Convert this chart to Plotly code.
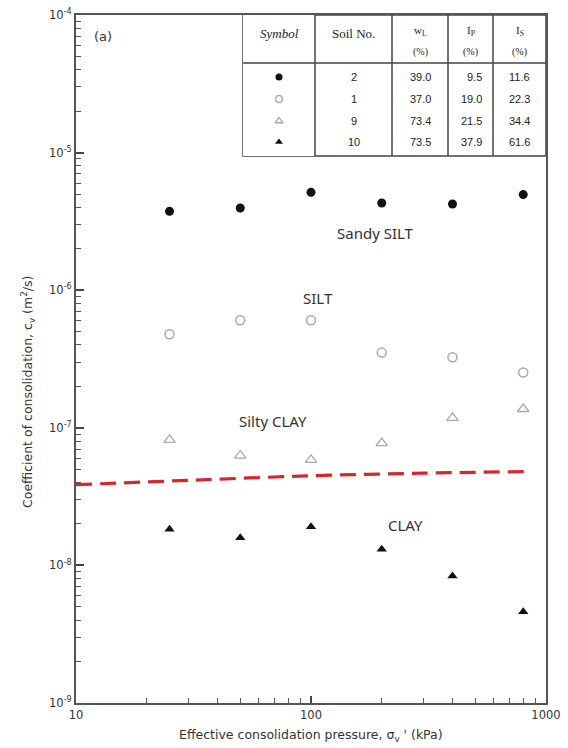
import plotly.graph_objects as go

# Effective consolidation pressure (kPa)
pressure = [25, 50, 100, 200, 400, 800]

# Coefficient of consolidation c_v (m^2/s) for each soil
cv_soil2 = [3.74e-6, 3.96e-6, 5.14e-6, 4.30e-6, 4.23e-6, 4.95e-6]
cv_soil1 = [4.79e-7, 6.05e-7, 6.05e-7, 3.52e-7, 3.26e-7, 2.52e-7]
cv_soil9 = [8.18e-8, 6.27e-8, 5.85e-8, 7.74e-8, 1.18e-7, 1.37e-7]
cv_soil10 = [1.83e-8, 1.59e-8, 1.91e-8, 1.31e-8, 8.36e-9, 4.61e-9]

# Boundary line between silty clay and clay
boundary_p = [10, 30, 100, 300, 830]
boundary_cv = [3.86e-8, 4.15e-8, 4.48e-8, 4.68e-8, 4.81e-8]

# Soil property table
soil_no = ["2", "1", "9", "10"]
w_l = ["39.0", "37.0", "73.4", "73.5"]
i_p = ["9.5", "19.0", "21.5", "37.9"]
i_s = ["11.6", "22.3", "34.4", "61.6"]

# Zone labels
zone_labels = ["Sandy SILT", "SILT", "Silty CLAY", "CLAY"]

W, H = 568, 748
L, R, T, B = 76, 546, 15, 703


def px(x):
    return (x - L) / (R - L)


def py(y):
    return (B - y) / (B - T)


styles = [
    dict(symbol="circle", size=9, color="#111111", line=dict(width=0)),
    dict(symbol="circle-open", size=9, color="#a8a8a8", line=dict(width=1.5)),
    dict(symbol="triangle-up-open", size=10, color="#a8a8a8", line=dict(width=1.3)),
    dict(symbol="triangle-up", size=9, color="#111111", line=dict(width=0)),
]
series = [cv_soil2, cv_soil1, cv_soil9, cv_soil10]

fig = go.Figure()

# Boundary line, drawn on the overlaid axes that carry the extra ticks
fig.add_trace(go.Scatter(x=boundary_p, y=boundary_cv, mode="lines", xaxis="x3", yaxis="y3",
                         line=dict(color="#d6282b", width=3.2, dash="16px,8px", shape="spline"),
                         showlegend=False, hoverinfo="skip"))

for vals, st in zip(series, styles):
    fig.add_trace(go.Scatter(x=pressure, y=vals, mode="markers", marker=st,
                             showlegend=False, hoverinfo="skip"))

# Table geometry (pixels)
col_edges = [243, 315, 392, 448, 493, 546]
ty_top, ty_head, ty_bot = 15, 63, 156
row_y = [77, 99, 121, 142]

# Symbol column markers on a hidden overlay axis
for i, st in enumerate(styles):
    fig.add_trace(go.Scatter(x=[0.5], y=[row_y[i]], mode="markers",
                             marker=dict(st, size=7), xaxis="x2", yaxis="y2",
                             showlegend=False, hoverinfo="skip"))

shapes = []
line_style = dict(color="#444444", width=1.5)
shapes.append(dict(type="rect", xref="paper", yref="paper", x0=px(col_edges[0]), x1=px(col_edges[-1]),
                   y0=py(ty_bot), y1=py(ty_top), line=line_style, fillcolor="white", layer="below"))
for xe in col_edges[1:-1]:
    shapes.append(dict(type="line", xref="paper", yref="paper", x0=px(xe), x1=px(xe),
                       y0=py(ty_bot), y1=py(ty_top), line=line_style))
shapes.append(dict(type="line", xref="paper", yref="paper", x0=px(col_edges[0]), x1=px(col_edges[-1]),
                   y0=py(ty_head), y1=py(ty_head), line=line_style))

ann = []
serif = dict(family="Liberation Serif", size=13, color="#222222")
sans_small = dict(family="Liberation Sans", size=11, color="#222222")
centers = [(col_edges[i] + col_edges[i + 1]) / 2 for i in range(5)]


def add_text(x, y, text, font, xanchor="center", **kw):
    ann.append(dict(x=px(x), y=py(y), xref="paper", yref="paper", text=text,
                    showarrow=False, font=font, xanchor=xanchor, yanchor="middle", **kw))


add_text(centers[0], 33, "<i>Symbol</i>", serif)
add_text(centers[1], 33, "Soil No.", serif)
add_text(centers[2], 31, "w<sub>L</sub>", dict(serif, size=11))
add_text(centers[3], 31, "I<sub>P</sub>", dict(serif, size=11))
add_text(centers[4], 31, "I<sub>S</sub>", dict(serif, size=11))
for c in centers[2:]:
    add_text(c, 52, "(%)", dict(serif, size=10))
for i in range(4):
    add_text(centers[1], row_y[i], soil_no[i], sans_small)
    add_text(centers[2], row_y[i], w_l[i], sans_small)
    add_text(centers[3] + 13, row_y[i], i_p[i], sans_small, xanchor="right")
    add_text(centers[4], row_y[i], i_s[i], sans_small)

add_text(103, 36, "(a)", dict(family="DejaVu Sans", size=13, color="#333333"))

label_font = dict(family="Noto Sans", size=15, color="#333333")
label_pos = [(375, 233), (318, 298), (273, 421), (405, 525)]
for t, (x, y) in zip(zone_labels, label_pos):
    add_text(x, y, t, label_font)

title_font = dict(family="DejaVu Sans", size=12.5, color="#333333")
# Axis titles
add_text(311, 735, "Effective consolidation pressure, σ<sub>v</sub> ' (kPa)", title_font)
add_text(28, 392, "Coefficient of consolidation, c<sub>v</sub> (m<sup>2</sup>/s)", title_font,
         textangle=-90)

axis_font = dict(family="DejaVu Sans", size=11.5, color="#333333")
y_major = [1e-9, 1e-8, 1e-7, 1e-6, 1e-5, 1e-4]
y_major_text = ["10<sup>-9</sup>", "10<sup>-8</sup>", "10<sup>-7</sup>",
                "10<sup>-6</sup>", "10<sup>-5</sup>", "10<sup>-4</sup>"]
x_minor = [m * 10 ** e for e in (1, 2) for m in range(2, 10)]
y_minor = [float(f"{m}e{e}") for e in range(-9, -4) for m in range(2, 10)]

# Left axis: every decade digit gets a short tick, only decades get a label
y_all = y_major + y_minor
y_all_text = y_major_text + [""] * len(y_minor)

common = dict(showgrid=False, zeroline=False, automargin=False)

fig.update_layout(
    width=W, height=H,
    margin=dict(l=L, r=W - R, t=T, b=H - B, autoexpand=False),
    paper_bgcolor="white", plot_bgcolor="white",
    shapes=shapes, annotations=ann,
    xaxis=dict(type="log", range=[1, 3], tickvals=[10, 100, 1000], ticktext=["10", "100", "1000"],
               ticks="inside", ticklen=7, tickwidth=1.5, tickcolor="#444444",
               showline=True, linecolor="#555555", linewidth=2, mirror=True,
               tickfont=axis_font, **common),
    yaxis=dict(type="log", range=[-9, -4], tickmode="array", tickvals=y_all, ticktext=y_all_text,
               ticks="inside", ticklen=5, tickwidth=1.2, tickcolor="#555555",
               showline=True, linecolor="#555555", linewidth=2, mirror=True,
               tickfont=axis_font, **common),
    # Overlaid axes: minor ticks along the bottom, longer decade ticks on the left
    xaxis3=dict(type="log", range=[1, 3], overlaying="x", side="bottom", anchor="y3",
                tickmode="array", tickvals=x_minor, showticklabels=False,
                ticks="inside", ticklen=5, tickwidth=1.2, tickcolor="#555555",
                showline=False, **common),
    yaxis3=dict(type="log", range=[-9, -4], overlaying="y", side="left", anchor="x3",
                tickmode="array", tickvals=y_major, showticklabels=False,
                ticks="inside", ticklen=8, tickwidth=1.5, tickcolor="#444444",
                showline=False, **common),
    xaxis2=dict(domain=[px(col_edges[0]), px(col_edges[1])], range=[0, 1], visible=False,
                anchor="y2", fixedrange=True),
    yaxis2=dict(domain=[py(ty_bot), py(ty_top)], range=[ty_bot, ty_top], visible=False,
                anchor="x2", fixedrange=True),
)

fig.write_html("out.html")
